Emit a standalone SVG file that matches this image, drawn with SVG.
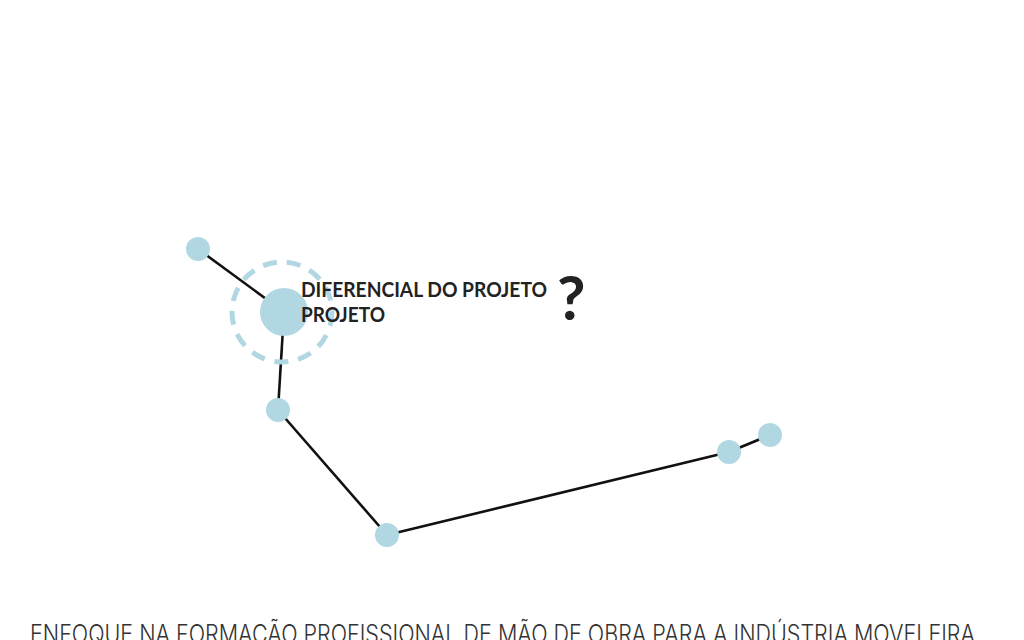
<svg xmlns="http://www.w3.org/2000/svg" width="1024" height="640" viewBox="0 0 1024 640">
<style>
.node{fill:#b1d8e2}
.edge{stroke:#111;stroke-width:2.6;fill:none}
.lbl{font-family:Lato,"Liberation Sans",sans-serif;font-weight:700;font-size:20px;fill:#222}
.foot{font-family:Inter,"Liberation Sans",sans-serif;font-weight:300;font-size:25px;fill:#333}
</style>
<rect width="1024" height="640" fill="#fff"/>
<g id="connectors">
<line class="edge" x1="198" y1="249" x2="284" y2="312"/>
<line class="edge" x1="284" y1="312" x2="278" y2="410"/>
<line class="edge" x1="278" y1="410" x2="387" y2="535"/>
<line class="edge" x1="387" y1="535" x2="729" y2="452"/>
<line class="edge" x1="729" y1="452" x2="770" y2="435"/>
</g>
<g id="ring"><circle cx="282" cy="312" r="50" fill="none" stroke="#b1d8e2" stroke-width="5" stroke-dasharray="14 10"/></g>
<g id="n1"><circle class="node" cx="198" cy="249" r="12"/></g>
<g id="n2"><circle class="node" cx="284" cy="312" r="24"/></g>
<g id="n3"><circle class="node" cx="278" cy="410" r="12"/></g>
<g id="n4"><circle class="node" cx="387" cy="535" r="12"/></g>
<g id="n5"><circle class="node" cx="729" cy="452" r="12"/></g>
<g id="n6"><circle class="node" cx="770" cy="435" r="12"/></g>
<g id="label">
<text class="lbl" x="301" y="297" textLength="246" lengthAdjust="spacingAndGlyphs">DIFERENCIAL DO PROJETO</text>
<text class="lbl" x="301" y="322" textLength="84" lengthAdjust="spacingAndGlyphs">PROJETO</text>
<text x="557" y="320" font-family="Lato,'Liberation Sans',sans-serif" font-weight="700" font-size="62" fill="#222">?</text>
</g>
<text class="foot" x="30" y="643" textLength="945" lengthAdjust="spacingAndGlyphs">ENFOQUE NA FORMAÇÃO PROFISSIONAL DE MÃO DE OBRA PARA A INDÚSTRIA MOVELEIRA</text>
</svg>
